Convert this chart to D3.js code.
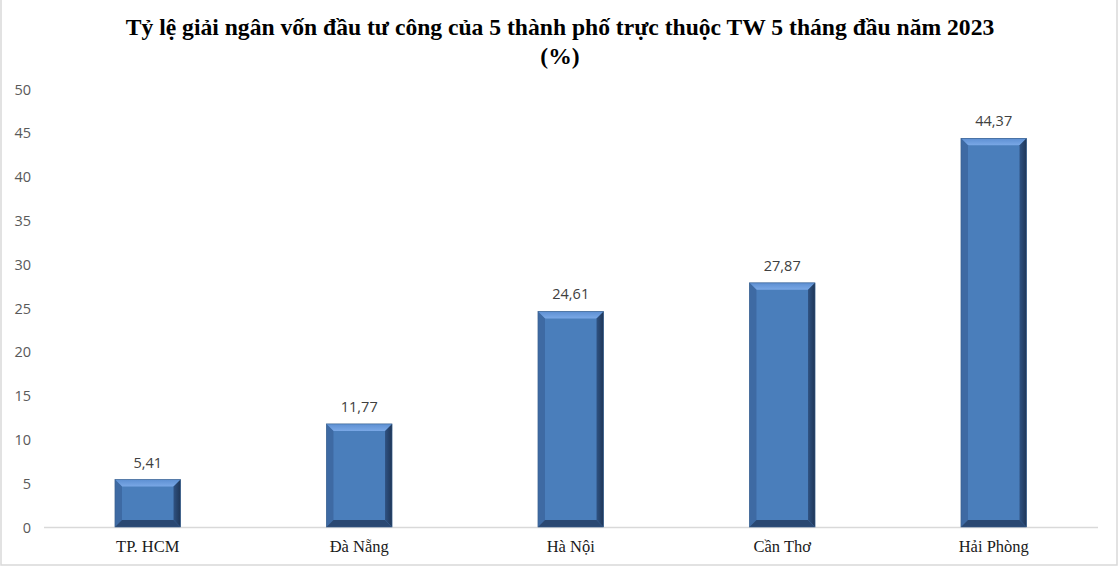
<!DOCTYPE html>
<html><head><meta charset="utf-8">
<script src="https://cdn.jsdelivr.net/npm/d3@7"></script>
<style>html,body{margin:0;padding:0;background:#fff;}svg{display:block;}</style>
</head><body>
<svg id="c" width="1120" height="568"></svg>
<script>
const categories = ["TP. HCM", "Đà Nẵng", "Hà Nội", "Cần Thơ", "Hải Phòng"];
const values = [5.41, 11.77, 24.61, 27.87, 44.37];
const valueLabels = ["5,41", "11,77", "24,61", "27,87", "44,37"];
const yTicks = [0, 5, 10, 15, 20, 25, 30, 35, 40, 45, 50];
const titleLines = ["Tỷ lệ giải ngân vốn đầu tư công của 5 thành phố trực thuộc TW 5 tháng đầu năm 2023", "(%)"];

const svg = d3.select("#c");
svg.append("rect").attr("x",1).attr("y",-2).attr("width",1116).attr("height",567)
  .attr("fill","#fff").attr("stroke","#d9d9d9").attr("stroke-width",1.5);

const defs = svg.append("defs");
const gTop = defs.append("linearGradient").attr("id","gTop").attr("x1",0).attr("y1",0).attr("x2",0).attr("y2",1);
gTop.append("stop").attr("offset","0%").attr("stop-color","#5d8fd2");
gTop.append("stop").attr("offset","100%").attr("stop-color","#7aa8e6");
const gRight = defs.append("linearGradient").attr("id","gRight").attr("x1",0).attr("y1",0).attr("x2",1).attr("y2",0);
gRight.append("stop").attr("offset","0%").attr("stop-color","#2f5282");
gRight.append("stop").attr("offset","100%").attr("stop-color","#1f3657");

const x = d3.scaleBand().domain(categories).range([42, 1099.5]).paddingInner(0.69).paddingOuter(0.345);
const y = d3.scaleLinear().domain([0, 50]).range([527, 89]);

svg.selectAll(".title").data(titleLines).join("text")
  .attr("x", 560).attr("y", (d,i)=>35 + i*29).attr("text-anchor","middle")
  .attr("font-family","'Liberation Serif','Times New Roman',serif").attr("font-weight","bold")
  .attr("font-size",23.6).attr("fill","#000").text(d=>d);

const yAxis = d3.axisLeft(y).tickValues(yTicks).tickSize(0).tickPadding(0);
const gy = svg.append("g").attr("transform","translate(31,0)").call(yAxis);
gy.select(".domain").remove();
gy.selectAll("text").attr("font-family","'Open Sans',sans-serif").attr("font-size",14.5).attr("fill","#595959").attr("dy","0.35em");

svg.append("line").attr("x1",44).attr("x2",1098).attr("y1",y(0)+0.5).attr("y2",y(0)+0.5)
  .attr("stroke","#d9d9d9").attr("stroke-width",1.5);

const xAxis = d3.axisBottom(x).tickSize(0).tickPadding(0);
const gx = svg.append("g").attr("transform",`translate(0,${y(0)})`).call(xAxis);
gx.select(".domain").remove();
gx.selectAll("text").attr("font-family","'Liberation Serif','Times New Roman',serif").attr("font-size",16.5).attr("fill","#1a1a1a").attr("dy","1.5em");

const bw = 7;
const bars = svg.selectAll(".bar").data(values).join("g").attr("class","bar");
bars.each(function(v,i){
  const g = d3.select(this);
  const x0 = x(categories[i]), w = x.bandwidth();
  const y0 = y(v), y1 = y(0);
  const x1 = x0 + w;
  g.append("rect").attr("x",x0).attr("y",y0).attr("width",w).attr("height",y1-y0).attr("fill","#4a7ebb");
  const b = Math.min(bw, (y1-y0)/2);
  g.append("polygon").attr("points",[[x0,y0],[x1,y0],[x1-bw,y0+b],[x0+bw,y0+b]].join(" ")).attr("fill","url(#gTop)");
  g.append("polygon").attr("points",[[x0,y0],[x0+bw,y0+b],[x0+bw,y1-b],[x0,y1]].join(" ")).attr("fill","#3e6aa3");
  g.append("polygon").attr("points",[[x1,y0],[x1-bw,y0+b],[x1-bw,y1-b],[x1,y1]].join(" ")).attr("fill","url(#gRight)");
  g.append("polygon").attr("points",[[x0,y1],[x0+bw,y1-b],[x1-bw,y1-b],[x1,y1]].join(" ")).attr("fill","#2a4872");
  g.append("rect").attr("x",x0).attr("y",y0).attr("width",w).attr("height",y1-y0).attr("fill","none").attr("stroke","#385d8a").attr("stroke-width",0.6);
});

svg.selectAll(".lbl").data(values).join("text")
  .attr("x",(d,i)=>x(categories[i])+x.bandwidth()/2).attr("y",d=>y(d)-12)
  .attr("text-anchor","middle").attr("font-family","'Open Sans',sans-serif").attr("font-size",14.5)
  .attr("fill","#404040").text((d,i)=>valueLabels[i]);
</script>
</body></html>
